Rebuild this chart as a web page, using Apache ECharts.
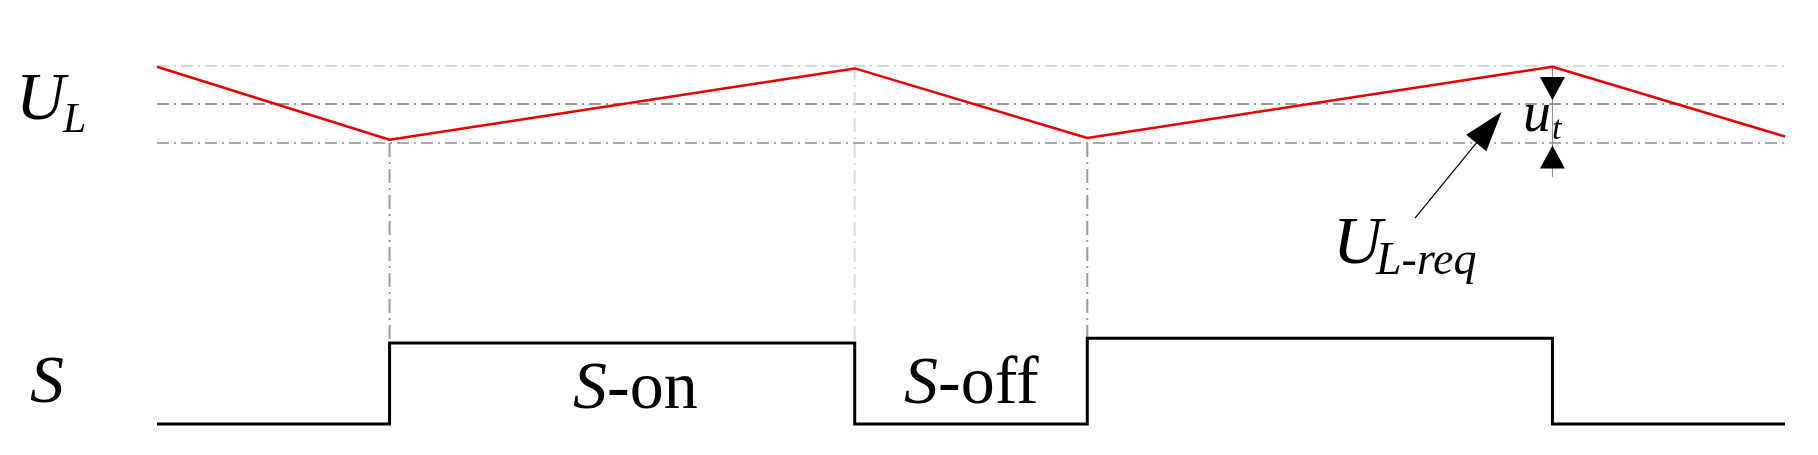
<!DOCTYPE html>
<html><head><meta charset="utf-8">
<script src="https://cdn.jsdelivr.net/npm/echarts@6/dist/echarts.min.js"></script>
<style>html,body{margin:0;padding:0;background:#fff}#c{width:1818px;height:455px}</style>
</head><body><div id="c"></div><script>
// time instants (switching period units) and waveform values
const times = [0, 1, 3, 4, 6, 7];
const ulWave = [4.41, 3.51, 4.39, 3.53, 4.41, 3.55];
const sTimes = [0, 1, 1, 3, 3, 4, 4, 6, 6, 7];
const sWave = [0, 0, 1, 1, 0, 0, 1.06, 1.06, 0, 0];
// reference levels of U_L
const ulMax = 4.42, ulReq = 3.95, ulMin = 3.47;
// vertical guide lines: time, from level, to level, colour
const guideT = [1, 3, 4];
const guideFrom = [ulMin, ulMax, ulMin];
const guideTo = [1, 1, 1.06];
const guideColor = ['#9a9a9a', '#dcdcdc', '#9a9a9a'];
// u_t marker
const utT = 6;
const utLineEnd = 3.05;
const utArrowTop = 4.142, utArrowBottom = 3.296;
// U_L-req pointer
const reqFrom = [5.409, 2.543], reqTo = [5.727, 3.66];

const FAM = "'Liberation Serif', 'Times New Roman', 'DejaVu Serif', serif";
const dashDot = [12, 5, 2, 5];

const series = [];
[[ulMax, '#d9d9d9'], [ulReq, '#999999'], [ulMin, '#aaaaaa']].forEach(function (p) {
  series.push({type: 'line', data: [[times[0], p[0]], [times[times.length - 1], p[0]]],
    symbol: 'none', silent: true, clip: false, z: 1,
    lineStyle: {color: p[1], width: 2, type: dashDot}});
});
guideT.forEach(function (t, i) {
  series.push({type: 'line', data: [[t, guideFrom[i]], [t, guideTo[i]]],
    symbol: 'none', silent: true, clip: false, z: 1,
    lineStyle: {color: guideColor[i], width: 2, type: [14, 5, 2, 5]}});
});
series.push({type: 'line', data: times.map(function (t, i) { return [t, ulWave[i]]; }),
  symbol: 'none', clip: false, z: 3, lineStyle: {color: '#e60000', width: 2.5}});
series.push({type: 'line', data: sTimes.map(function (t, i) { return [t, sWave[i]]; }),
  symbol: 'none', clip: false, z: 3, lineStyle: {color: '#000', width: 3, join: 'miter'}});
series.push({type: 'line', data: [[utT, ulMax], [utT, utLineEnd]], symbol: 'none', clip: false, z: 2,
  lineStyle: {color: '#888', width: 1}});
series.push({type: 'scatter', data: [[utT, utArrowTop]], symbol: 'triangle', symbolRotate: 180,
  symbolSize: [25, 23], itemStyle: {color: '#000', opacity: 1}, clip: false, z: 4, silent: true});
series.push({type: 'scatter', data: [[utT, utArrowBottom]], symbol: 'triangle',
  symbolSize: [25, 23], itemStyle: {color: '#000', opacity: 1}, clip: false, z: 4, silent: true});
series.push({type: 'line', data: [], silent: true, z: 4,
  markLine: {silent: true, symbol: ['none', 'triangle'], symbolSize: [26, 40],
    label: {show: false}, lineStyle: {color: '#000', width: 1.2, type: 'solid', opacity: 1},
    itemStyle: {color: '#000', opacity: 1},
    emphasis: {disabled: true},
    data: [[{coord: reqFrom}, {coord: reqTo}]]}});

function txt(x, y, text, size, italic, rich) {
  return {type: 'text', x: x, y: y, silent: true, z: 10,
    style: {text: text, fontSize: size, fontFamily: FAM, fontStyle: italic ? 'italic' : 'normal',
      fill: '#000', align: 'left', verticalAlign: 'middle', rich: rich}};
}
const ital = {i: {fontSize: 68, fontFamily: FAM, fontStyle: 'italic', fill: '#000'},
              r: {fontSize: 68, fontFamily: FAM, fontStyle: 'normal', fill: '#000'}};

const chart = echarts.init(document.getElementById('c'), null, {renderer: 'canvas'});
chart.setOption({
  animation: false,
  backgroundColor: '#fff',
  textStyle: {fontFamily: FAM},
  grid: {left: 157, right: 33, top: 19, bottom: 10.75},
  xAxis: {type: 'value', min: 0, max: 7, show: false},
  yAxis: {type: 'value', min: -0.25, max: 5, show: false},
  series: series,
  graphic: [
    txt(16, 101, 'U', 68, true),
    txt(63, 121, 'L', 42, true),
    txt(30, 384, 'S', 68, true),
    txt(573, 390, '{i|S}{r|-on}', 68, false, ital),
    txt(904, 385, '{i|S}{r|-off}', 68, false, ital),
    txt(1333, 245, 'U', 68, true),
    txt(1376, 262, 'L-req', 46, true),
    txt(1523, 116, 'u', 56, true),
    txt(1552, 130, 't', 34, true)
  ]
});
</script></body></html>
